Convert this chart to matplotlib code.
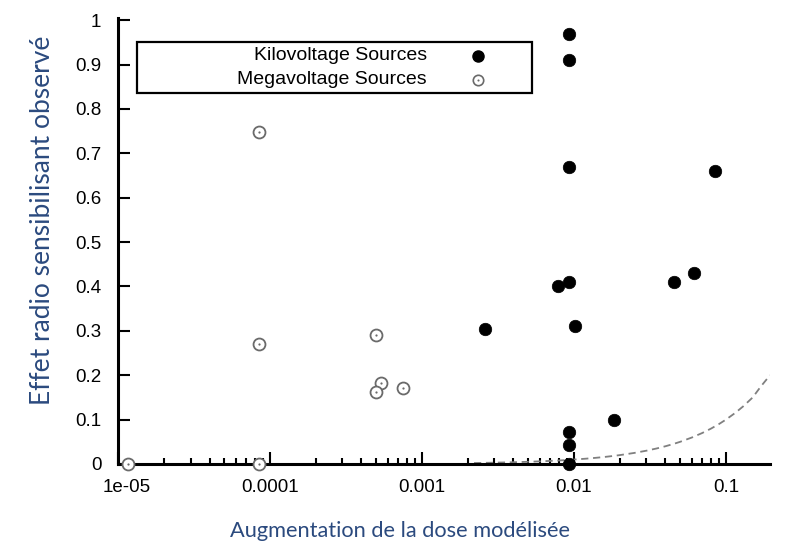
import matplotlib
matplotlib.use("Agg")
import matplotlib.pyplot as plt
from matplotlib.patches import Rectangle
from matplotlib.lines import Line2D
from matplotlib.ticker import FixedLocator, FixedFormatter
from matplotlib.transforms import ScaledTranslation

# ---------------- data ----------------
kv_x = [0.0093, 0.0093, 0.0093, 0.0093, 0.0093, 0.0093, 0.0093,
        0.0079, 0.0101, 0.0026, 0.0455, 0.0616, 0.085, 0.0183]
kv_y = [0.97, 0.91, 0.67, 0.41, 0.072, 0.043, 0.0,
        0.40, 0.31, 0.305, 0.41, 0.43, 0.66, 0.10]

mv_x = [1.17e-05, 8.5e-05, 8.5e-05, 8.5e-05, 0.00050, 0.00054, 0.00050, 0.00075]
mv_y = [0.0, 0.0, 0.748, 0.27, 0.29, 0.182, 0.162, 0.171]

# dashed reference curve (y ~ x)
ref_x = [0.0022, 0.003, 0.004, 0.005, 0.006, 0.007, 0.008, 0.009, 0.01, 0.012, 0.014,
         0.016, 0.018, 0.02, 0.025, 0.03, 0.035, 0.04, 0.045, 0.05, 0.06, 0.07, 0.08,
         0.09, 0.1, 0.115, 0.13, 0.15, 0.17, 0.195]
ref_y = [0.0022, 0.003, 0.004, 0.005, 0.006, 0.007, 0.008, 0.009, 0.01, 0.012, 0.014,
         0.016, 0.018, 0.02, 0.025, 0.03, 0.035, 0.04, 0.045, 0.05, 0.06, 0.07, 0.08,
         0.09, 0.1, 0.115, 0.13, 0.15, 0.175, 0.2]

xticks = [1e-05, 1e-04, 1e-03, 1e-02, 1e-01]
xtick_labels = ["1e-05", "0.0001", "0.001", "0.01", "0.1"]
yticks = [0, 0.1, 0.2, 0.3, 0.4, 0.5, 0.6, 0.7, 0.8, 0.9, 1]
ytick_labels = ["0", "0.1", "0.2", "0.3", "0.4", "0.5", "0.6", "0.7", "0.8", "0.9", "1"]

legend_labels = ["Kilovoltage Sources", "Megavoltage Sources"]
xlabel = "Augmentation de la dose modélisée"
ylabel = "Effet radio sensibilisant observé"

# ---------------- figure ----------------
W, H = 787, 546
fig = plt.figure(figsize=(W / 100, H / 100), dpi=100)

def fx(px):
    return px / W

def fy(py):
    return 1 - py / H

ax_left, ax_right, ax_top, ax_bottom = 118, 770, 18, 464
ax = fig.add_axes([fx(ax_left), fy(ax_bottom), fx(ax_right - ax_left), (ax_bottom - ax_top) / H])

tick_font = "Liberation Sans"
label_font = ["Lato", "DejaVu Sans"]
label_color = "#2B4A7E"

ax.set_xscale("log")
ax.set_xlim(1e-05, 0.195)
ax.set_ylim(0, 1.005)

# reference dashed line
ax.plot(ref_x, ref_y, linestyle=(0, (4, 2.6)), color="#808080", lw=1.3, zorder=2)

# megavoltage: open circles with centre dot
ax.plot(mv_x, mv_y, linestyle="none", marker="o", ms=8.6, mfc="white", mec="#6a6a6a",
        mew=1.3, clip_on=False, zorder=3)
ax.plot(mv_x, mv_y, linestyle="none", marker="o", ms=1.6, mfc="#6a6a6a", mec="#6a6a6a",
        mew=0, clip_on=False, zorder=4)

# kilovoltage: filled black circles
ax.plot(kv_x, kv_y, linestyle="none", marker="o", ms=9.0, mfc="black", mec="black",
        mew=0.5, clip_on=False, zorder=5)

# spines
for s in ["top", "right"]:
    ax.spines[s].set_visible(False)
for s in ["left", "bottom"]:
    ax.spines[s].set_linewidth(2.2)
    ax.spines[s].set_color("black")

ax.xaxis.set_major_locator(FixedLocator(xticks))
ax.xaxis.set_major_formatter(FixedFormatter(xtick_labels))
ax.yaxis.set_major_locator(FixedLocator(yticks))
ax.yaxis.set_major_formatter(FixedFormatter(ytick_labels))
ax.yaxis.set_minor_locator(plt.NullLocator())

ax.tick_params(axis="x", which="major", direction="in", length=8.5, width=1.5, pad=11,
               labelsize=13.5, colors="black")
ax.tick_params(axis="x", which="minor", direction="in", length=4.5, width=1.5)
ax.tick_params(axis="y", which="major", direction="in", length=8.5, width=1.5, pad=12,
               labelsize=13.5)
for lab in ax.get_xticklabels() + ax.get_yticklabels():
    lab.set_fontfamily(tick_font)

# first x label sits slightly right of the axis origin in the reference
first = ax.get_xticklabels()[0]
first.set_transform(first.get_transform() + ScaledTranslation(9 / 100, 0, fig.dpi_scale_trans))

# axis titles
fig.text(fx(400), fy(531), xlabel, ha="center", va="center", fontsize=15.7,
         family=label_font, color=label_color)
fig.text(fx(43), fy(220), ylabel, ha="center", va="center", fontsize=19,
         family=label_font, color=label_color, rotation=90)

# legend box (manual, gnuplot-style)
lx0, ly0, lx1, ly1 = 137, 42, 532, 93
fig.add_artist(Rectangle((fx(lx0), fy(ly1)), fx(lx1 - lx0), (ly1 - ly0) / H,
                         transform=fig.transFigure, fill=True, facecolor="white",
                         edgecolor="black", lw=1.6, zorder=10))
fig.text(fx(427), fy(56), legend_labels[0], ha="right", va="center", fontsize=14,
         family=tick_font, zorder=11)
fig.text(fx(427), fy(79), legend_labels[1], ha="right", va="center", fontsize=14,
         family=tick_font, zorder=11)
fig.add_artist(Line2D([fx(478)], [fy(56)], transform=fig.transFigure, marker="o", ms=8,
                      mfc="black", mec="black", linestyle="none", zorder=11))
fig.add_artist(Line2D([fx(478)], [fy(80)], transform=fig.transFigure, marker="o", ms=7.5,
                      mfc="white", mec="#6a6a6a", mew=1.2, linestyle="none", zorder=11))
fig.add_artist(Line2D([fx(478)], [fy(80)], transform=fig.transFigure, marker="o", ms=1.5,
                      mfc="#6a6a6a", mec="#6a6a6a", mew=0, linestyle="none", zorder=12))

fig.savefig("out.png", dpi=100)
